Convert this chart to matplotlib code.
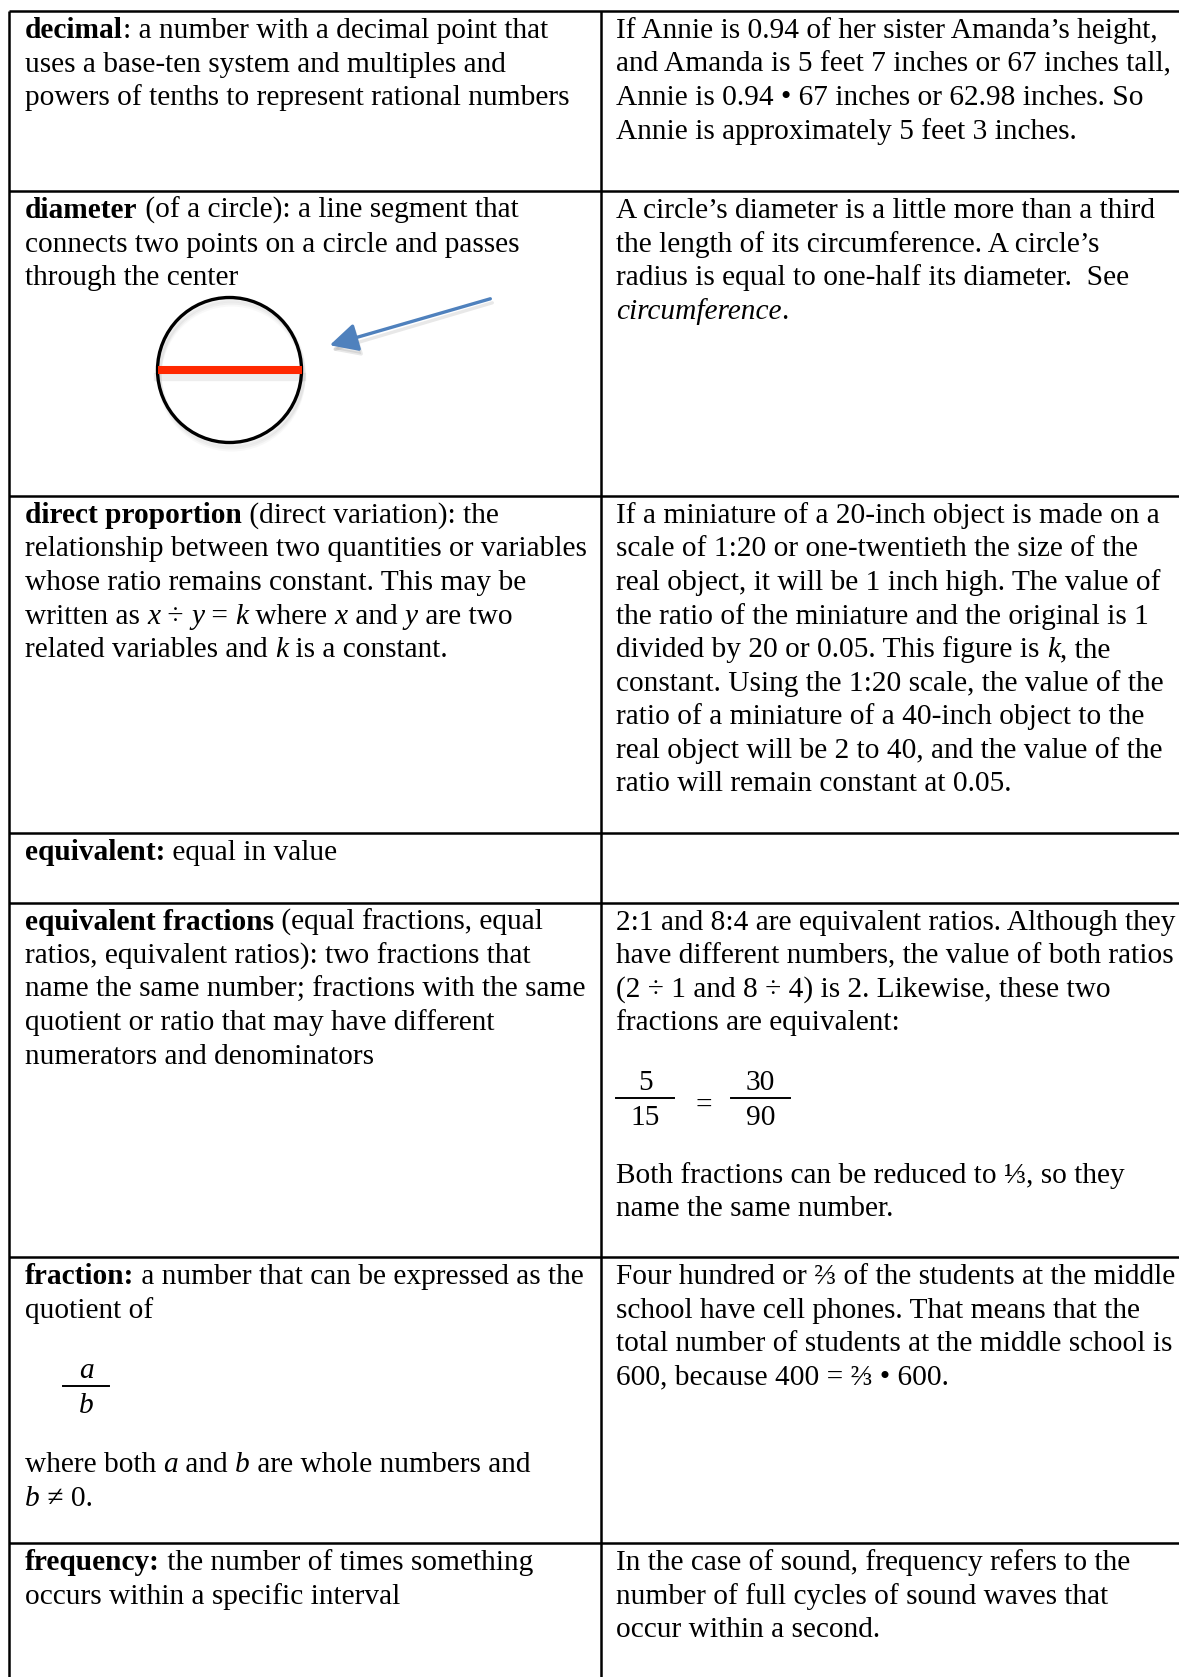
import matplotlib
matplotlib.use("Agg")
import matplotlib.pyplot as plt
from matplotlib.font_manager import FontProperties
from matplotlib.patches import Ellipse, FancyArrowPatch

# ---- content: glossary rows (left = term, right = example) ----
# each line is a list of (text, style) runs; style n=normal, b=bold, i=italic
left_rows = [
    [[("decimal", "b"), (": a number with a decimal point that", "n")],
     [("uses a base-ten system and multiples and", "n")],
     [("powers of tenths to represent rational numbers", "n")]],
    [[("diameter", "b"), (" (of a circle): a line segment that", "n")],
     [("connects two points on a circle and passes", "n")],
     [("through the center", "n")]],
    [[("direct proportion", "b"), (" (direct variation): the", "n")],
     [("relationship between two quantities or variables", "n")],
     [("whose ratio remains constant. This may be", "n")],
     [("written as ", "n"), ("x", "i"), (" ÷ ", "n"), ("y", "i"), (" = ", "n"), ("k", "i"),
      (" where ", "n"), ("x", "i"), (" and ", "n"), ("y", "i"), (" are two", "n")],
     [("related variables and ", "n"), ("k", "i"), (" is a constant.", "n")]],
    [[("equivalent:", "b"), (" equal in value", "n")]],
    [[("equivalent fractions", "b"), (" (equal fractions, equal", "n")],
     [("ratios, equivalent ratios): two fractions that", "n")],
     [("name the same number; fractions with the same", "n")],
     [("quotient or ratio that may have different", "n")],
     [("numerators and denominators", "n")]],
    [[("fraction:", "b"), (" a number that can be expressed as the", "n")],
     [("quotient of", "n")]],
    [[("frequency:", "b"), (" the number of times something", "n")],
     [("occurs within a specific interval", "n")]],
]

right_rows = [
    [[("If Annie is 0.94 of her sister Amanda’s height,", "n")],
     [("and Amanda is 5 feet 7 inches or 67 inches tall,", "n")],
     [("Annie is 0.94 • 67 inches or 62.98 inches. So", "n")],
     [("Annie is approximately 5 feet 3 inches.", "n")]],
    [[("A circle’s diameter is a little more than a third", "n")],
     [("the length of its circumference. A circle’s", "n")],
     [("radius is equal to one-half its diameter.  See", "n")],
     [("circumference", "i"), (".", "n")]],
    [[("If a miniature of a 20-inch object is made on a", "n")],
     [("scale of 1:20 or one-twentieth the size of the", "n")],
     [("real object, it will be 1 inch high. The value of", "n")],
     [("the ratio of the miniature and the original is 1", "n")],
     [("divided by 20 or 0.05. This figure is ", "n"), ("k", "i"), (", the", "n")],
     [("constant. Using the 1:20 scale, the value of the", "n")],
     [("ratio of a miniature of a 40-inch object to the", "n")],
     [("real object will be 2 to 40, and the value of the", "n")],
     [("ratio will remain constant at 0.05.", "n")]],
    [],
    [[("2:1 and 8:4 are equivalent ratios. Although they", "n")],
     [("have different numbers, the value of both ratios", "n")],
     [("(2 ÷ 1 and 8 ÷ 4) is 2. Likewise, these two", "n")],
     [("fractions are equivalent:", "n")]],
    [[("Four hundred or ⅔ of the students at the middle", "n")],
     [("school have cell phones. That means that the", "n")],
     [("total number of students at the middle school is", "n")],
     [("600, because 400 = ⅔ • 600.", "n")]],
    [[("In the case of sound, frequency refers to the", "n")],
     [("number of full cycles of sound waves that", "n")],
     [("occur within a second.", "n")]],
]

# extra text that sits lower in a cell, after a fraction
after_fraction_right = [[("Both fractions can be reduced to ⅓, so they", "n")],
                        [("name the same number.", "n")]]
after_fraction_left = [[("where both ", "n"), ("a", "i"), (" and ", "n"), ("b", "i"),
                        (" are whole numbers and", "n")],
                       [("b", "i"), (" ≠ 0.", "n")]]
eq_fractions = [("5", "15"), ("30", "90")]
frac_ab = ("a", "b")

# ---- layout (pixel coords of the 1179x1677 page) ----
W, H = 1179, 1677
row_lines = [11, 191, 496, 833, 903, 1257, 1543]
x_left, x_div = 9, 601
tx_left, tx_right = 25, 616
first_base = 27
line_gap = 33.5
FS = 21.2
FAMILY = ["Liberation Serif", "DejaVu Serif"]

fig = plt.figure(figsize=(W / 100, H / 100), dpi=100)
ax = fig.add_axes([0, 0, 1, 1])
ax.set_xlim(0, W)
ax.set_ylim(H, 0)
ax.axis("off")
renderer = fig.canvas.get_renderer()


def fprop(style):
    return FontProperties(family=FAMILY, size=FS,
                          weight="bold" if style == "b" else "normal",
                          style="italic" if style == "i" else "normal")


def advance(s, fp):
    # width with sentinels so leading/trailing spaces are counted
    w1 = renderer.get_text_width_height_descent("|" + s + "|", fp, ismath=False)[0]
    w0 = renderer.get_text_width_height_descent("||", fp, ismath=False)[0]
    return w1 - w0


def put(x, y, s, style, ha="left"):
    ax.text(x, y, s, fontproperties=fprop(style), va="baseline", ha=ha, color="black")


def draw_line(x, y, runs):
    for txt, style in runs:
        put(x, y, txt, style)
        x += advance(txt, fprop(style))


def draw_block(x, y0, lines):
    for i, runs in enumerate(lines):
        draw_line(x, y0 + i * line_gap, runs)


# table grid
for y in row_lines:
    ax.plot([x_left, W], [y, y], color="black", lw=1.8, solid_capstyle="butt")
for x in (x_left, x_div):
    ax.plot([x, x], [row_lines[0], H], color="black", lw=1.8, solid_capstyle="butt")

for top, lrows, rrows in zip(row_lines, left_rows, right_rows):
    draw_block(tx_left, top + first_base, lrows)
    draw_block(tx_right, top + first_base, rrows)

# fractions in the "equivalent fractions" example
frac_num_y, frac_den_y, frac_bar_y = 1090, 1125, 1098
for (num, den), (x0, x1) in zip(eq_fractions, [(616, 674), (731, 790)]):
    xc = (x0 + x1) / 2
    ax.plot([x0, x1], [frac_bar_y, frac_bar_y], color="black", lw=1.4)
    put(xc, frac_num_y, num, "n", ha="center")
    put(xc, frac_den_y, den, "n", ha="center")
put(704, 1113, "=", "n", ha="center")
draw_block(tx_right, 1183, after_fraction_right)

# a/b in the "fraction" definition
ax.plot([63, 109], [1386, 1386], color="black", lw=1.4)
put(86, 1378, frac_ab[0], "i", ha="center")
put(86, 1413, frac_ab[1], "i", ha="center")
draw_block(tx_left, 1472, after_fraction_left)

# circle with diameter and arrow
cx, cy, cw, ch = 229.5, 370, 144, 145
for k, a in [(7, 0.05), (5, 0.07), (3, 0.09)]:
    ax.add_patch(Ellipse((cx + 2, cy + k), cw, ch, fill=False, ec="gray", lw=3, alpha=a))
ax.plot([cx - cw / 2, cx + cw / 2], [cy + 7, cy + 7], color="gray", lw=6, alpha=0.14)
ax.add_patch(Ellipse((cx, cy), cw, ch, fill=False, ec="black", lw=2.4, zorder=3))
ax.plot([cx - cw / 2, cx + cw / 2], [cy, cy], color="#ff2800", lw=5.8,
        solid_capstyle="butt", zorder=4)
arrow_style = "-|>,head_length=17,head_width=8.6"
ax.add_patch(FancyArrowPatch((495, 302), (329, 351), arrowstyle=arrow_style,
                             mutation_scale=1, color="gray", alpha=0.18, lw=2.4))
ax.add_patch(FancyArrowPatch((493, 298), (327, 346), arrowstyle=arrow_style,
                             mutation_scale=1, color="#4f81bd", lw=2.4, zorder=4))

fig.savefig("out.png", dpi=100)
